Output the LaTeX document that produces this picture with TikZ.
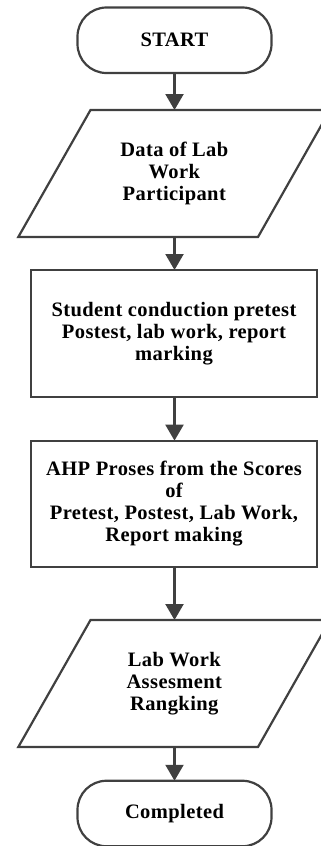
\documentclass[tikz,border=0pt]{standalone}
\usepackage{fontspec}
\newfontfamily\lblfont[LetterSpace=2]{Liberation Serif}
\usetikzlibrary{arrows.meta}
\definecolor{ln}{HTML}{404040}
\tikzset{
  boxnode/.style={draw=ln, line width=2.2pt, minimum width=286pt, minimum height=127pt, outer sep=0pt, inner sep=0pt, align=center},
  termnode/.style={draw=ln, line width=2.2pt, rounded corners=29pt, minimum width=194pt, minimum height=65.5pt, outer sep=0pt, inner sep=0pt, align=center},
  txt/.style={align=center, text=black, font=\lblfont\bfseries\fontsize{20.5}{22}\selectfont},
  flow/.style={draw=ln, line width=2.2pt, -{Triangle[width=18pt,length=16pt]}},
  para/.style={draw=ln, line width=2.2pt, line join=miter}
}
\begin{document}
\begin{tikzpicture}[x=1pt,y=-1pt]
\useasboundingbox (0,0) rectangle (321,846);
% start
\node[termnode, txt] (start) at (174.5,40.25) {START};
% data parallelogram
\draw[para] (90.5,110) -- (330,110) -- (258,237) -- (18.3,237) -- cycle;
\node[txt] (data) at (174.3,173.5) {Data of Lab\\Work\\Participant};
\coordinate (datatop) at (174.5,110);
\coordinate (databot) at (174.5,237);
% process boxes
\node[boxnode, txt] (cond) at (174,333.5) {Student conduction pretest\\Postest, lab work, report\\marking};
\node[boxnode, txt, minimum height=126.3pt] (ahp) at (174,503.8) {AHP Proses from the Scores\\of\\Pretest, Postest, Lab Work,\\Report making};
% ranking parallelogram
\draw[para] (90.5,620) -- (330,620) -- (258,747) -- (18.3,747) -- cycle;
\node[txt] (rank) at (174.3,683.5) {Lab Work\\Assesment\\Rangking};
\coordinate (ranktop) at (174.5,620);
\coordinate (rankbot) at (174.5,747);
% end
\node[termnode, txt] (done) at (174.5,813.5) {Completed};
% connectors
\draw[flow] (start.south) -- (datatop);
\draw[flow] (databot) -- (databot |- cond.north);
\draw[flow] (cond.south -| databot) -- (databot |- ahp.north);
\draw[flow] (ahp.south -| databot) -- (ranktop);
\draw[flow] (rankbot) -- (done.north);
\end{tikzpicture}
\end{document}
